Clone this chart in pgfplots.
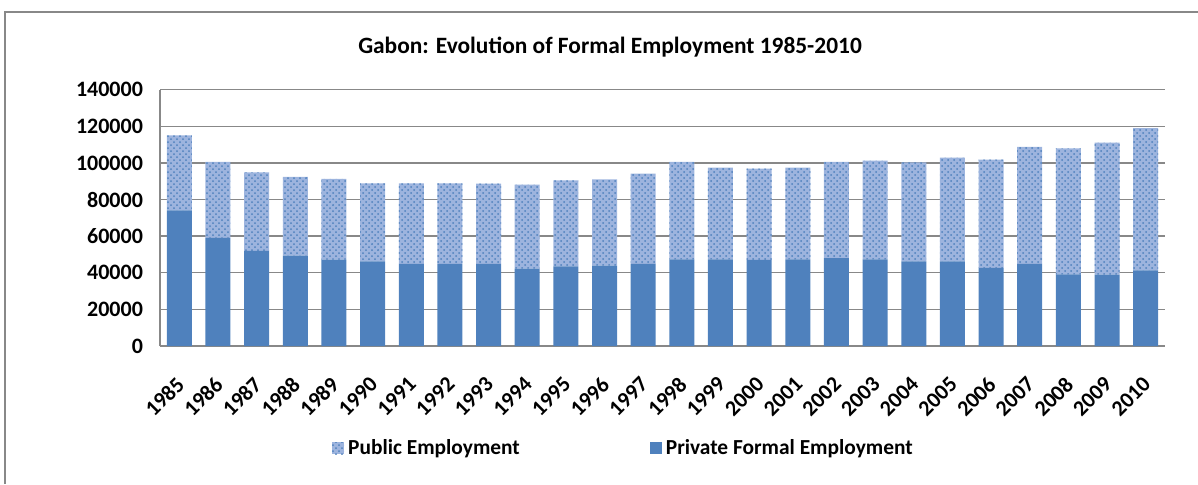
\documentclass[border=0pt]{standalone}
\usepackage{pgfplots}
\pgfplotsset{compat=1.18}
\usepackage{pgfplotstable}
\usepackage{fontspec}
\setmainfont{Carlito}
\usetikzlibrary{patterns}
\definecolor{privblue}{HTML}{4F81BD}
\definecolor{publight}{HTML}{9DB4DE}
\definecolor{gridgray}{HTML}{888888}

% idx year private public
\pgfplotstableread{
idx year private public
0  1985 74100 40900
1  1986 59000 41500
2  1987 51900 42900
3  1988 49300 43000
4  1989 47200 44000
5  1990 46200 42600
6  1991 44800 44000
7  1992 44800 44000
8  1993 44800 43800
9  1994 42300 45800
10 1995 43500 47000
11 1996 43900 47100
12 1997 44800 49300
13 1998 47300 53200
14 1999 47300 50100
15 2000 47000 49800
16 2001 47300 50100
17 2002 48000 52500
18 2003 47300 53900
19 2004 46200 54100
20 2005 46200 56600
21 2006 42600 59200
22 2007 44800 63900
23 2008 39100 68800
24 2009 39000 72000
25 2010 41300 77700
}\data

\begin{document}
\begin{tikzpicture}[font=\bfseries\fontsize{10.7}{12}\selectfont]
  \useasboundingbox (0,0) rectangle (599pt,242pt);
  \draw[gridgray, line width=1pt] (2.5pt,0) -- (2.5pt,236pt) -- (605pt,236pt);
  \node[font=\bfseries\fontsize{11.7}{13}\selectfont] at (305pt,218.5pt) {Gabon: Evolution of Formal Employment 1985-2010};
  \begin{axis}[
    at={(80pt,69pt)}, anchor=south west,
    scale only axis,
    width=502.5pt, height=128.2pt,
    ybar stacked,
    bar width=12.5pt,
    xmin=-0.5, xmax=25.5,
    ymin=0, ymax=140000,
    scaled y ticks=false,
    ytick={0,20000,40000,60000,80000,100000,120000,140000},
    yticklabels={0,20000,40000,60000,80000,100000,120000,140000},
    yticklabel style={xshift=-5pt, font=\bfseries\fontsize{11}{12}\selectfont},
    xtick={0,...,25},
    xticklabels={1985,1986,1987,1988,1989,1990,1991,1992,1993,1994,1995,1996,1997,1998,1999,2000,2001,2002,2003,2004,2005,2006,2007,2008,2009,2010},
    xticklabel style={xshift=3pt, yshift=-15pt, rotate=45, anchor=east, font=\bfseries\fontsize{11}{12}\selectfont},
    major tick length=0pt,
    ymajorgrids,
    grid style={gridgray, line width=0.7pt},
    axis line style={gridgray, line width=0.7pt},
    axis x line*=bottom,
    axis y line*=left,
    reverse legend,
    legend columns=2,
    legend style={at={(0.165,-0.398)}, anchor=west, draw=none, fill=none,
      /tikz/every even column/.append style={column sep=63pt}},
    legend image code/.code={\draw[#1, draw=none] (0pt,-3pt) rectangle (6pt,3pt);},
  ]
    \addplot[fill=privblue, draw=none] table[x=idx, y=private] {\data};
    \addlegendentry{Private Formal Employment}
    \addplot[fill=publight, draw=none, postaction={pattern=crosshatch dots, pattern color=privblue}] table[x=idx, y=public] {\data};
    \addlegendentry{Public Employment}
  \end{axis}
\end{tikzpicture}
\end{document}
